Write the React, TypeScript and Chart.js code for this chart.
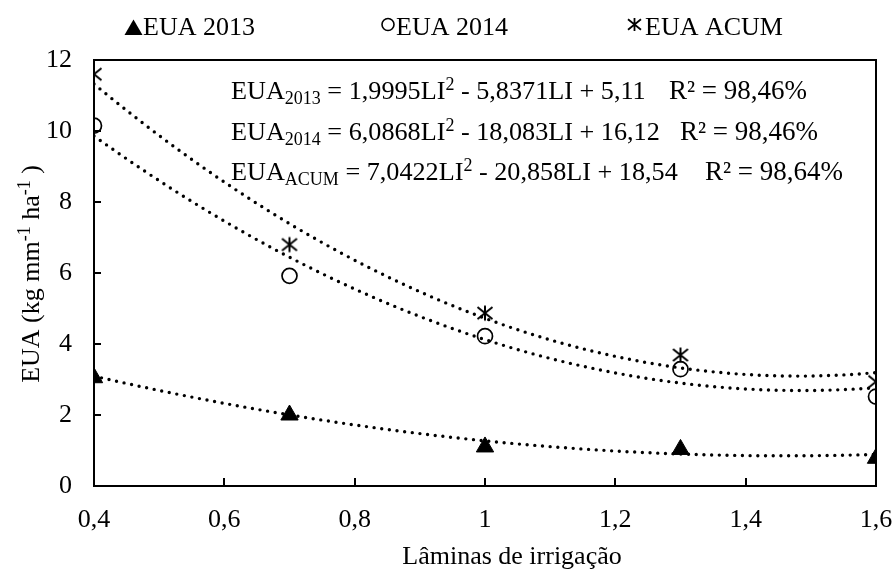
import React, { useEffect, useRef } from "react";
import { Chart, registerables } from "chart.js";

Chart.register(...registerables);

// Irrigation depths (x) and water-use efficiency per season
const laminas = [0.4, 0.7, 1.0, 1.3, 1.6];
const eua2013 = [3.05, 2.0, 1.1, 1.03, 0.78];
const eua2014 = [10.15, 5.92, 4.22, 3.29, 2.52];
const euaAcum = [11.6, 6.8, 4.87, 3.69, 2.94];

// Quadratic trend coefficients [a, b, c] for a·LI² + b·LI + c
const coef2013 = [1.9995, -5.8371, 5.11];
const coef2014 = [6.0868, -18.083, 16.12];
const coefAcum = [7.0422, -20.858, 18.54];
const r2Values = [98.46, 98.46, 98.64];
const eqSubscripts = ["2013", "2014", "ACUM"];

const legendLabels = ["EUA 2013", "EUA 2014", "EUA ACUM"];

const xTicks = [0.4, 0.6, 0.8, 1, 1.2, 1.4, 1.6];
const xTickLabels = ["0,4", "0,6", "0,8", "1", "1,2", "1,4", "1,6"];
const yTicks = [0, 2, 4, 6, 8, 10, 12];
const yTickLabels = ["0", "2", "4", "6", "8", "10", "12"];

const xTitle = "Lâminas de irrigação";

const FONT = '"Liberation Serif", "Times New Roman", serif';
const BIG = 26;
const SMALL = 18;

const fmt = (v: number) => String(Math.abs(v)).replace(".", ",");

// dense sampling of the fitted curves over the plotted range
const trendX: number[] = [];
for (let i = 0; i <= 120; i++) trendX.push(Math.round((0.4 + i * 0.01) * 1000) / 1000);
const trendPoints = (c: number[]) =>
  trendX.map((x) => ({ x, y: c[0] * x * x + c[1] * x + c[2] }));

function strokeStar(ctx: CanvasRenderingContext2D, cx: number, cy: number, r: number, lw: number) {
  ctx.save();
  ctx.strokeStyle = "#000";
  ctx.lineWidth = lw;
  ctx.lineCap = "butt";
  ctx.beginPath();
  ctx.moveTo(cx, cy - r);
  ctx.lineTo(cx, cy + r);
  ctx.moveTo(cx - r, cy - r * 0.8);
  ctx.lineTo(cx + r, cy + r * 0.8);
  ctx.moveTo(cx + r, cy - r * 0.8);
  ctx.lineTo(cx - r, cy + r * 0.8);
  ctx.stroke();
  ctx.restore();
}

function makeStarImage(): HTMLCanvasElement {
  const c = document.createElement("canvas");
  c.width = 20;
  c.height = 20;
  const g = c.getContext("2d")!;
  strokeStar(g, 10, 10, 7.5, 2);
  return c;
}

type Seg = { t: string; s?: "sub" | "sup" };

function drawRich(ctx: CanvasRenderingContext2D, x: number, y: number, segs: Seg[], big = BIG) {
  let cx = x;
  for (const seg of segs) {
    ctx.font = `${seg.s ? SMALL : big}px ${FONT}`;
    const dy = seg.s === "sub" ? 5 : seg.s === "sup" ? -9 : 0;
    ctx.fillText(seg.t, cx, y + dy);
    cx += ctx.measureText(seg.t).width;
  }
  return cx;
}

function richWidth(ctx: CanvasRenderingContext2D, segs: Seg[]) {
  let w = 0;
  for (const seg of segs) {
    ctx.font = `${seg.s ? SMALL : BIG}px ${FONT}`;
    w += ctx.measureText(seg.t).width;
  }
  return w;
}

function equationSegs(sub: string, c: number[]): Seg[] {
  return [
    { t: "EUA" },
    { t: sub, s: "sub" },
    { t: ` = ${fmt(c[0])}LI` },
    { t: "2", s: "sup" },
    { t: ` ${c[1] < 0 ? "-" : "+"} ${fmt(c[1])}LI ${c[2] < 0 ? "-" : "+"} ${fmt(c[2])}` },
  ];
}

const eqX = 231;
const eqBaselines = [99, 140, 180];
const r2Right = [807, 818, 843];

const decorPlugin = {
  id: "decor",
  beforeDatasetsDraw(chart: any) {
    const { ctx, chartArea: a, scales } = chart;
    ctx.save();
    ctx.strokeStyle = "#000";
    ctx.lineWidth = 2;
    ctx.strokeRect(a.left, a.top, a.right - a.left, a.bottom - a.top);
    ctx.beginPath();
    xTicks.forEach((v) => {
      const px = Math.round(scales.x.getPixelForValue(v));
      ctx.moveTo(px, a.bottom);
      ctx.lineTo(px, a.bottom - 8);
    });
    yTicks.forEach((v) => {
      const py = Math.round(scales.y.getPixelForValue(v));
      ctx.moveTo(a.left, py);
      ctx.lineTo(a.left + 7, py);
    });
    ctx.stroke();

    // x tick labels
    ctx.fillStyle = "#000";
    ctx.font = `${BIG}px ${FONT}`;
    ctx.textAlign = "center";
    ctx.textBaseline = "alphabetic";
    xTicks.forEach((v, i) => {
      ctx.fillText(xTickLabels[i], scales.x.getPixelForValue(v), 527);
    });
    ctx.restore();
  },
  afterDraw(chart: any) {
    const { ctx } = chart;
    ctx.save();
    ctx.fillStyle = "#000";
    ctx.strokeStyle = "#000";
    ctx.textBaseline = "alphabetic";
    ctx.textAlign = "left";

    // legend
    ctx.font = `${BIG}px ${FONT}`;
    ctx.beginPath();
    ctx.moveTo(133.5, 19.5);
    ctx.lineTo(142.5, 35);
    ctx.lineTo(124.5, 35);
    ctx.closePath();
    ctx.fill();
    ctx.fillText(legendLabels[0], 143, 35);

    ctx.beginPath();
    ctx.lineWidth = 1.6;
    ctx.arc(388, 24.5, 6, 0, Math.PI * 2);
    ctx.stroke();
    ctx.fillText(legendLabels[1], 396, 35);

    strokeStar(ctx, 634.5, 24.5, 6.5, 1.8);
    ctx.font = `${BIG}px ${FONT}`;
    ctx.fillText(legendLabels[2], 645, 35);

    // trend equations
    const coefs = [coef2013, coef2014, coefAcum];
    coefs.forEach((c, i) => {
      ctx.textAlign = "left";
      drawRich(ctx, eqX, eqBaselines[i], equationSegs(eqSubscripts[i], c), 26.2);
      ctx.font = `27px ${FONT}`;
      ctx.textAlign = "right";
      ctx.fillText(`R² = ${fmt(r2Values[i])}%`, r2Right[i], eqBaselines[i]);
    });

    // x axis title
    ctx.font = `${BIG}px ${FONT}`;
    ctx.textAlign = "center";
    ctx.fillText(xTitle, 512, 564);

    // y axis title (rotated)
    const ySegs: Seg[] = [
      { t: "EUA (kg mm" },
      { t: "-1", s: "sup" },
      { t: " ha" },
      { t: "-1", s: "sup" },
      { t: " )" },
    ];
    ctx.textAlign = "left";
    const w = richWidth(ctx, ySegs);
    ctx.translate(39, 274);
    ctx.rotate(-Math.PI / 2);
    drawRich(ctx, -w / 2, 0, ySegs);
    ctx.restore();
  },
};

export default function App() {
  const canvasRef = useRef<HTMLCanvasElement | null>(null);

  useEffect(() => {
    if (!canvasRef.current) return;
    const star = makeStarImage();
    const pts = (ys: number[]) => laminas.map((x, i) => ({ x, y: ys[i] }));
    const trendStyle = {
      type: "line" as const,
      borderColor: "#000",
      borderWidth: 3.4,
      borderDash: [0, 7.7],
      borderCapStyle: "round" as const,
      pointRadius: 0,
      fill: false,
      tension: 0,
      order: 0,
    };

    const chart = new Chart(canvasRef.current, {
      type: "scatter",
      data: {
        datasets: [
          { ...trendStyle, label: "t2013", data: trendPoints(coef2013) },
          { ...trendStyle, label: "t2014", data: trendPoints(coef2014) },
          { ...trendStyle, label: "tAcum", data: trendPoints(coefAcum) },
          {
            label: legendLabels[0],
            data: pts(eua2013),
            pointStyle: "triangle",
            pointRadius: 10,
            backgroundColor: "#000",
            borderColor: "#000",
            borderWidth: 1,
            order: 1,
          },
          {
            label: legendLabels[1],
            data: pts(eua2014),
            pointStyle: "circle",
            pointRadius: 7.5,
            backgroundColor: "rgba(0,0,0,0)",
            borderColor: "#000",
            borderWidth: 1.7,
            order: 1,
          },
          {
            label: legendLabels[2],
            data: pts(euaAcum),
            pointStyle: star as any,
            pointRadius: 10,
            backgroundColor: "#000",
            borderColor: "#000",
            order: 1,
          },
        ],
      },
      options: {
        responsive: false,
        animation: false,
        devicePixelRatio: 1,
        layout: { padding: { left: 0, right: 19, top: 60, bottom: 0 } },
        plugins: {
          legend: { display: false },
          tooltip: { enabled: false },
        },
        scales: {
          x: {
            type: "linear",
            min: 0.4,
            max: 1.6,
            grid: { display: false, drawTicks: false },
            border: { display: false },
            afterBuildTicks: (s: any) => {
              s.ticks = xTicks.map((v) => ({ value: v }));
            },
            afterFit: (s: any) => {
              s.height = 84;
            },
            ticks: { display: false },
          },
          y: {
            type: "linear",
            min: 0,
            max: 12,
            grid: { display: false, drawTicks: false },
            border: { display: false },
            afterBuildTicks: (s: any) => {
              s.ticks = yTicks.map((v) => ({ value: v }));
            },
            afterFit: (s: any) => {
              s.width = 94;
            },
            ticks: {
              color: "#000",
              font: { family: FONT, size: BIG },
              padding: 22,
              autoSkip: false,
              callback: (_v: any, i: number) => yTickLabels[i],
            },
          },
        },
      },
      plugins: [decorPlugin],
    });
    return () => chart.destroy();
  }, []);

  return (
    <div style={{ position: "absolute", left: 0, top: 0, width: 895, height: 570, background: "#fff" }}>
      <canvas ref={canvasRef} width={895} height={570} />
    </div>
  );
}
